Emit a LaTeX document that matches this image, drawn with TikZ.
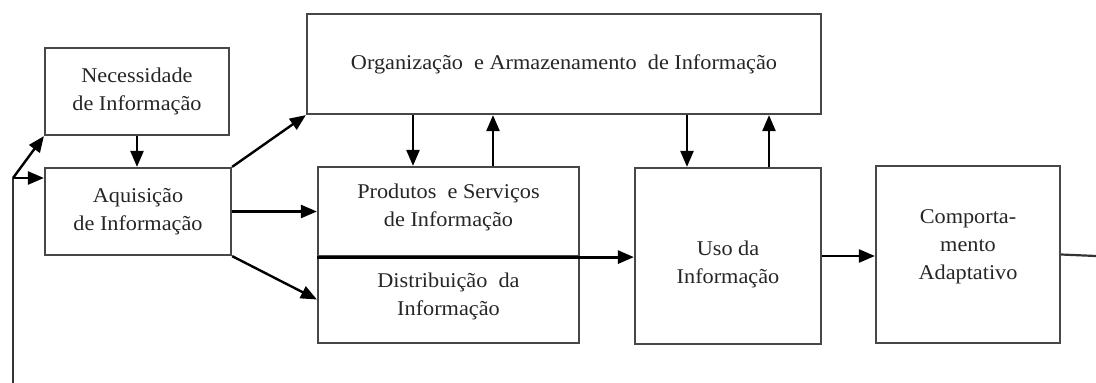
\documentclass[tikz,border=0pt]{standalone}
\usepackage{fontspec}
\setmainfont{Liberation Serif}[FakeStretch=1.06]
\usetikzlibrary{arrows.meta,calc}
\tikzset{
  box/.style={draw=black!72, line width=2.2pt, fill=none, align=center, inner sep=0pt, text=black!85},
  txt/.style={align=center, inner sep=0pt, text=black!85},
  arr/.style={draw=black, line width=2.4pt, -{Triangle[length=16pt,width=13pt]}},
  ln/.style={draw=black!80, line width=2.2pt},
}
\begin{document}
\begin{tikzpicture}[x=1pt,y=-1pt,font=\fontsize{21}{28}\selectfont]
\useasboundingbox (0,0) rectangle (1096,383);
\fill[white] (0,0) rectangle (1096,383);
% boxes
\node[box, minimum width=184pt, minimum height=87pt] (nec) at (137,91.5) {Necessidade\\de Informação};
\node[box, minimum width=186pt, minimum height=87pt] (aq) at (138,211.5) {Aquisição\\de Informação};
\node[box, minimum width=514pt, minimum height=100pt] (org) at (564,64) {Organização~~e Armazenamento~~de Informação};
\node[box, minimum width=261pt, minimum height=89pt] (prod) at (448.5,211.5) {};
\node[txt] (prodT) at ([yshift=4pt]prod.center) {Produtos~ e Serviços\\de Informação};
\node[box, minimum width=261pt, minimum height=87pt] (dist) at (448.5,299.5) {};
\node[txt] (distT) at ([yshift=3pt]dist.center) {Distribuição~~da\\Informação};
\node[box, minimum width=186pt, minimum height=176pt] (uso) at (728,256) {};
\node[txt] (usoT) at ([yshift=-8pt]uso.center) {Uso da\\Informação};
\node[box, minimum width=184pt, minimum height=177pt] (comp) at (968,254.5) {};
\node[txt] (compT) at ([yshift=8pt]comp.center) {Comporta-\\mento\\Adaptativo};
% coordinates
\coordinate (fb) at (13,178);
\coordinate (fbot) at (13,383);
\coordinate (rend) at (1096,256);
\coordinate (pd) at (413,0);
\coordinate (pu) at (493,0);
\coordinate (ud) at (687,0);
\coordinate (uu) at (769,0);
% connectors
\draw[arr] (nec.south) -- (nec.south |- aq.north);
\draw[ln] (fbot) -- (fb);
\draw[arr] (fb) -- (nec.south west);
\draw[arr] (fb) -- (fb -| aq.west);
\draw[arr] (aq.north east) -- (org.south west);
\draw[arr] (aq.east) -- (aq.east -| prod.west);
\draw[arr] (aq.south east) -- (dist.west);
\draw[arr] (pd |- org.south) -- (pd |- prod.north);
\draw[arr] (pu |- prod.north) -- (pu |- org.south);
\draw[arr] (ud |- org.south) -- (ud |- uso.north);
\draw[arr] (uu |- uso.north) -- (uu |- org.south);
\draw[arr, line width=2.8pt] (prod.south west) -- (prod.south west -| uso.west);
\draw[arr] (uso.east) -- (uso.east -| comp.west);
\draw[ln] (comp.east) -- (rend);
\end{tikzpicture}
\end{document}
